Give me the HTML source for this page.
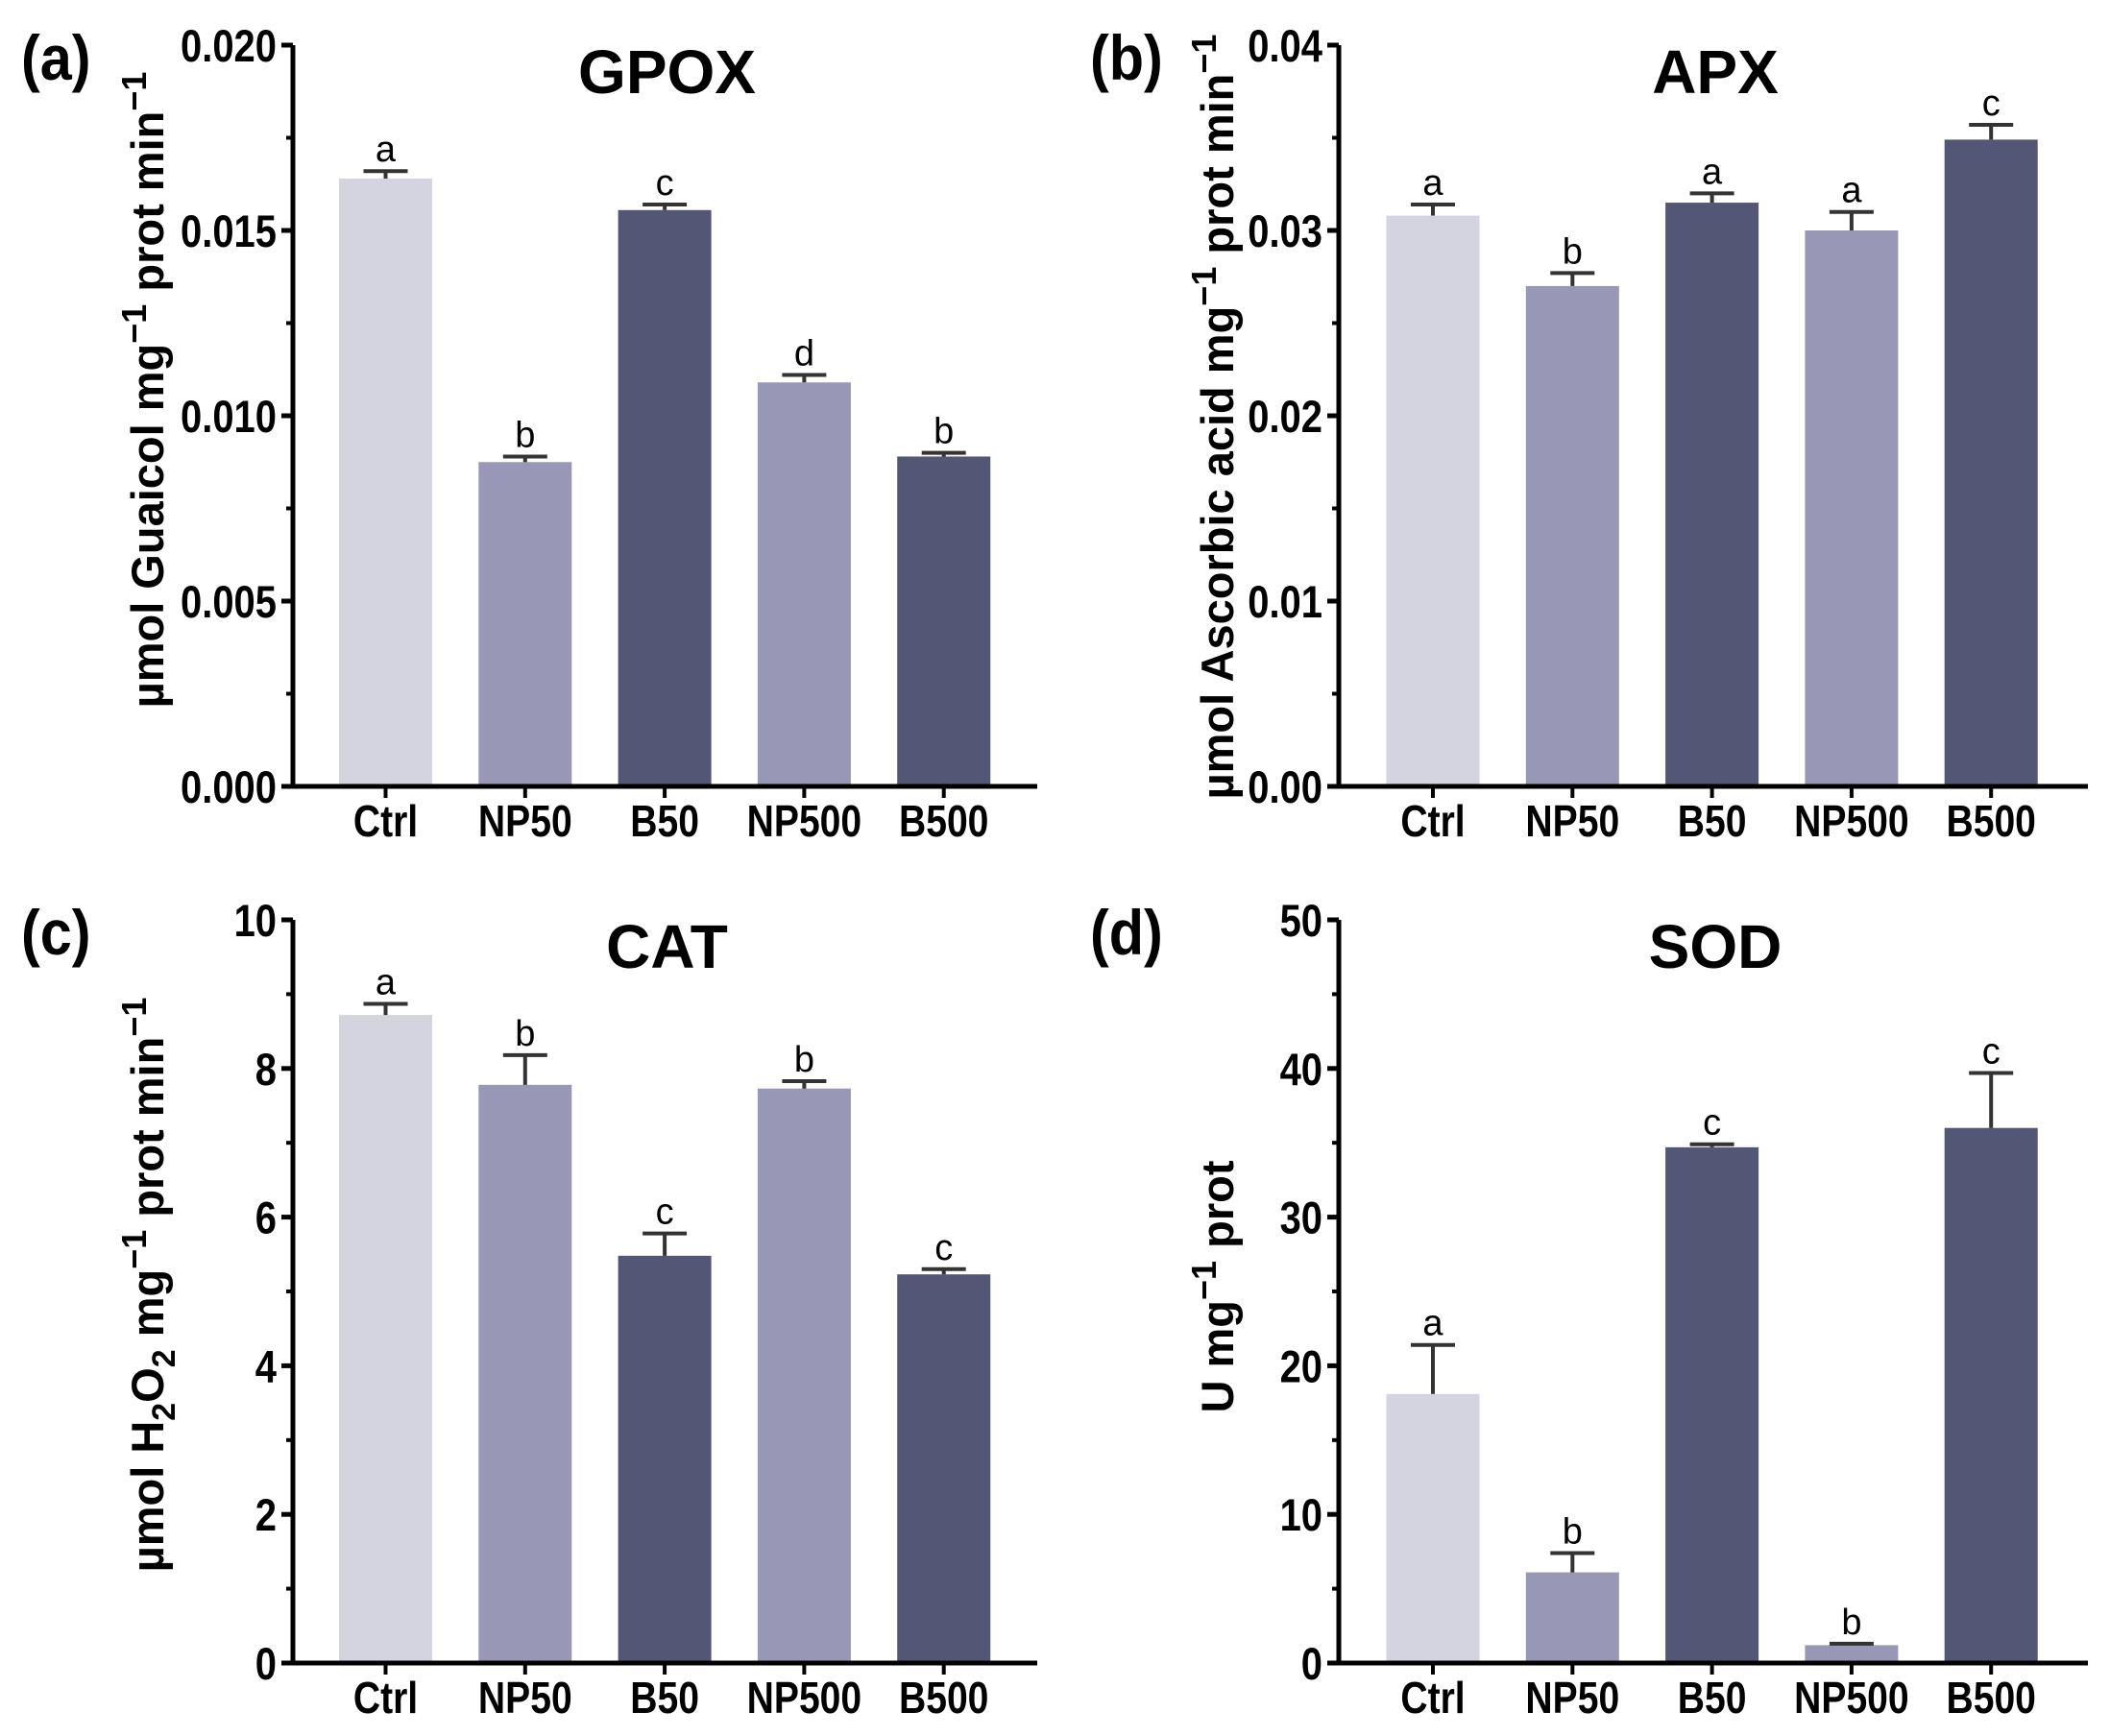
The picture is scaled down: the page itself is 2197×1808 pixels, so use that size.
<!DOCTYPE html>
<html><head><meta charset="utf-8"><style>
html,body{margin:0;padding:0;background:#fff}
svg{display:block}
text{font-family:"Liberation Sans",Arial,sans-serif}
</style></head><body>
<svg id="fig" xmlns="http://www.w3.org/2000/svg" width="2197" height="1808" viewBox="0 0 2197 1808"></svg>
<script>
const categories = ["Ctrl","NP50","B50","NP500","B500"];
const gpoxValues = [0.0164,0.00875,0.01555,0.0109,0.0089];
const gpoxErrTop = [0.0166,0.0089,0.0157,0.0111,0.0090];
const gpoxLetters = ["a","b","c","d","b"];
const gpoxTicks = ["0.000","0.005","0.010","0.015","0.020"];
const apxValues = [0.0308,0.0270,0.0315,0.0300,0.0349];
const apxErrTop = [0.0314,0.0277,0.0320,0.0310,0.0357];
const apxLetters = ["a","b","a","a","c"];
const apxTicks = ["0.00","0.01","0.02","0.03","0.04"];
const catValues = [8.72,7.78,5.48,7.73,5.23];
const catErrTop = [8.87,8.18,5.78,7.83,5.30];
const catLetters = ["a","b","c","b","c"];
const catTicks = ["0","2","4","6","8","10"];
const sodValues = [18.1,6.1,34.7,1.2,36.0];
const sodErrTop = [21.4,7.4,34.9,1.3,39.7];
const sodLetters = ["a","b","c","b","c"];
const sodTicks = ["0","10","20","30","40","50"];
const barColors = ["#d4d4e1","#9898b6","#545676","#9898b6","#545676"];

const NS = "http://www.w3.org/2000/svg";
const svg = document.getElementById("fig");
function mk(tag, attrs, parent){
  const e = document.createElementNS(NS, tag);
  for (const k in attrs) e.setAttribute(k, attrs[k]);
  (parent||svg).appendChild(e);
  return e;
}

function panel(cfg){
  const g = mk("g", {});
  
  
  const ax = cfg.ax, top = cfg.top, bot = cfg.bot, xEnd = cfg.xEnd;
  const ymax = parseFloat(cfg.ticks[cfg.ticks.length-1]);
  const y = v => bot - (v / ymax) * (bot - top);
  const xc = i => cfg.c0 + i * 145.3;
  const pl = mk("text", {transform: `translate(${cfg.lx},${top + 36}) scale(0.9,1)`, "font-size": 66, "font-weight": "bold"}, g);
  pl.textContent = cfg.label;
  
  
  const t = mk("text", {x: (ax + xEnd)/2 + 2, y: top + 50, "font-size": 64, "font-weight": "bold", "text-anchor": "middle"}, g);
  t.textContent = cfg.title;
  
  
  cfg.values.forEach((v, i) => {
    const r = mk("rect", {x: xc(i) - 48.5, y: y(v), width: 97, height: bot - y(v), fill: barColors[i]}, g);
    
    
    const et = y(cfg.err[i]);
    const el = mk("path", {d: `M${xc(i)} ${y(v)} V${et} M${xc(i)-23} ${et} H${xc(i)+23}`, stroke: "#333", "stroke-width": 4, fill: "none"}, g);
    
    
    const lt = mk("text", {x: xc(i), y: et - 10, "font-size": 38, "text-anchor": "middle"}, g);
    lt.textContent = cfg.letters[i];
    
    
    const xt = mk("text", {transform: `translate(${xc(i)},${bot + 52}) scale(0.85,1)`, "font-size": 46, "font-weight": "bold", "text-anchor": "middle"}, g);
    xt.textContent = categories[i];
    
    
    const tk = mk("line", {x1: xc(i), x2: xc(i), y1: bot, y2: bot + 12, stroke: "#000", "stroke-width": 4}, g);
    
    
  });
  const axes = mk("path", {d: `M${ax} ${top} V${bot} H${xEnd} M${ax-12} ${top} H${ax}`, stroke: "#000", "stroke-width": 5, fill: "none"}, g);
  
  
  cfg.ticks.forEach((lab, k) => {
    const v = parseFloat(lab);
    const tl = mk("line", {x1: ax - 12, x2: ax, y1: y(v), y2: y(v), stroke: "#000", "stroke-width": 5}, g);
    
    
    const tx = mk("text", {transform: `translate(${ax - 17},${y(v) + 17}) scale(0.85,1)`, "font-size": 47, "font-weight": "bold", "text-anchor": "end"}, g);
    tx.textContent = lab;
    
    
    if (k < cfg.ticks.length - 1) {
      const nv = parseFloat(cfg.ticks[k+1]);
      const mv = (v + nv) / 2;
      const ml = mk("line", {x1: ax - 7, x2: ax, y1: y(mv), y2: y(mv), stroke: "#000", "stroke-width": 4}, g);
      
      
    }
  });
  const yt = mk("text", {transform: `translate(${cfg.ytx},${cfg.yty}) rotate(-90)`, "font-size": 47, "font-weight": "bold", "text-anchor": "middle"}, g);
  yt.innerHTML = cfg.ytitle;
  
  
}

panel({id:"gpox", label:"(a)", lx:22, title:"GPOX", ax:305, top:47, bot:819, xEnd:1080, c0:401.5,
  values:gpoxValues, err:gpoxErrTop, letters:gpoxLetters, ticks:gpoxTicks, ytx:170, yty:406,
  ytitle:'µmol Guaicol mg<tspan dy="-18" font-size="36">−1</tspan><tspan dy="18"> prot min</tspan><tspan dy="-18" font-size="36">−1</tspan>'});
panel({id:"apx", label:"(b)", lx:1135, title:"APX", ax:1394, top:47, bot:819, xEnd:2174, c0:1492,
  values:apxValues, err:apxErrTop, letters:apxLetters, ticks:apxTicks, ytx:1284, yty:434,
  ytitle:'µmol Ascorbic acid mg<tspan dy="-18" font-size="36">−1</tspan><tspan dy="18"> prot min</tspan><tspan dy="-18" font-size="36">−1</tspan>'});
panel({id:"cat", label:"(c)", lx:22, title:"CAT", ax:305, top:958, bot:1732, xEnd:1080, c0:401.5,
  values:catValues, err:catErrTop, letters:catLetters, ticks:catTicks, ytx:170, yty:1338,
  ytitle:'µmol H<tspan dy="12" font-size="34">2</tspan><tspan dy="-12">O</tspan><tspan dy="12" font-size="34">2</tspan><tspan dy="-12"> mg</tspan><tspan dy="-18" font-size="36">−1</tspan><tspan dy="18"> prot min</tspan><tspan dy="-18" font-size="36">−1</tspan>'});
panel({id:"sod", label:"(d)", lx:1135, title:"SOD", ax:1394, top:958, bot:1732, xEnd:2174, c0:1492,
  values:sodValues, err:sodErrTop, letters:sodLetters, ticks:sodTicks, ytx:1284, yty:1340,
  ytitle:'U mg<tspan dy="-18" font-size="36">−1</tspan><tspan dy="18"> prot</tspan>'});
</script>
</body></html>
